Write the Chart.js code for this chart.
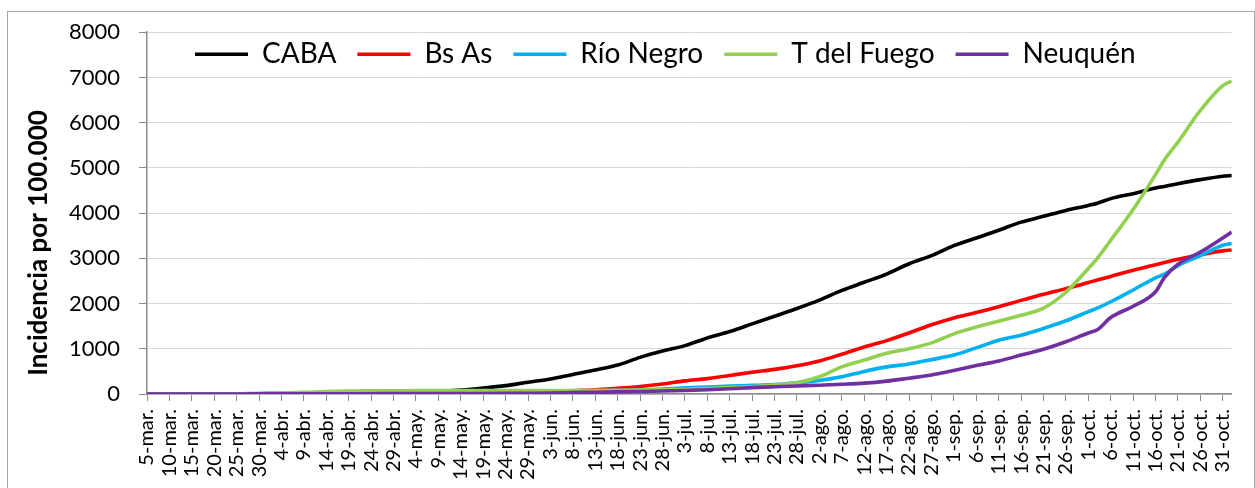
<!DOCTYPE html>
<html>
<head>
<meta charset="utf-8">
<script src="https://cdn.jsdelivr.net/npm/chart.js@4"></script>
<style>
  html, body { margin: 0; padding: 0; background: #fff; }
  #wrap { position: relative; width: 1255px; height: 488px; overflow: hidden; }
  #frame { position: absolute; left: 7px; top: 11px; width: 1246px; height: 490px; border: 1px solid #a6a6a6; pointer-events: none; }
  canvas { position: absolute; left: 0; top: 0; }
</style>
</head>
<body>
<div id="wrap">
  <canvas id="chart" width="1255" height="488"></canvas>
  <div id="frame"></div>
</div>
<script>
// ===== Data =====
// days counted from 5-mar. (day 0) to 2-nov. (day 242)
const sampleDays = [0,5,10,15,20,25,30,35,40,45,50,55,60,65,70,75,80,85,90,95,100,105,110,115,120,125,130,135,140,145,150,155,160,165,170,175,180,185,190,195,200,205,210,212,215,220,225,227,230,235,240,242];

const tickLabels = ['5-mar.','10-mar.','15-mar.','20-mar.','25-mar.','30-mar.',
  '4-abr.','9-abr.','14-abr.','19-abr.','24-abr.','29-abr.',
  '4-may.','9-may.','14-may.','19-may.','24-may.','29-may.',
  '3-jun.','8-jun.','13-jun.','18-jun.','23-jun.','28-jun.',
  '3-jul.','8-jul.','13-jul.','18-jul.','23-jul.','28-jul.',
  '2-ago.','7-ago.','12-ago.','17-ago.','22-ago.','27-ago.',
  '1-sep.','6-sep.','11-sep.','16-sep.','21-sep.','26-sep.',
  '1-oct.','6-oct.','11-oct.','16-oct.','21-oct.','26-oct.','31-oct.'];

const caba     = [0,0,0,1,3,6,10,14,18,22,27,32,40,55,85,130,185,260,330,430,530,640,810,950,1070,1240,1380,1550,1720,1890,2075,2290,2470,2650,2880,3060,3280,3450,3620,3800,3930,4060,4170,4220,4320,4430,4555,4590,4650,4740,4815,4830];
const bsAs     = [0,0,0,0,1,2,3,4,5,6,7,9,11,14,18,24,32,42,55,72,95,125,165,220,290,340,410,480,545,625,730,880,1040,1180,1350,1530,1680,1800,1930,2070,2205,2330,2465,2520,2600,2735,2860,2910,2980,3080,3165,3185];
const rioNegro = [0,0,1,3,6,10,16,22,27,31,34,36,38,40,42,44,47,50,54,60,67,76,88,110,135,155,175,190,210,250,300,380,500,600,665,760,860,1020,1190,1300,1450,1620,1820,1900,2040,2300,2570,2650,2840,3060,3290,3330];
const tdFuego  = [0,0,0,1,3,8,20,35,55,65,70,72,74,75,76,76,77,77,78,79,80,83,88,95,105,120,140,165,200,250,380,600,750,900,1000,1130,1330,1480,1610,1740,1900,2250,2775,3000,3400,4080,4850,5180,5570,6270,6820,6920];
const neuquen  = [0,0,0,0,1,2,3,4,5,6,7,8,9,10,11,12,14,17,21,30,38,46,55,65,78,95,115,140,160,178,195,215,240,285,350,420,520,630,730,860,990,1155,1350,1420,1690,1940,2260,2580,2870,3140,3450,3580];

const seriesNames  = ['CABA', 'Bs As', 'Río Negro', 'T del Fuego', 'Neuquén'];
const seriesData   = [caba, bsAs, rioNegro, tdFuego, neuquen];
const seriesColors = ['#000000', '#FF0000', '#00B0F0', '#92D050', '#7030A0'];

const yTitleText = 'Incidencia por 100.000';
const FONT = 'Lato';

// ===== Plugins =====
// legend sits inside the plot (like Excel): take no layout height, then place it
const legendInside = {
  id: 'legendInside',
  beforeInit(chart) {
    const lg = chart.legend;
    const origFit = lg.fit;
    lg.fit = function () {
      origFit.call(this);
      this.height = 0;
    };
  },
  afterLayout(chart) {
    const l = chart.legend, a = chart.chartArea;
    l.left = a.left + 27;
    l.right = a.right + 27;
    l.top = a.top - 13;
    l.bottom = l.top + 70;
    l.height = 70;
  }
};

const yTitle = {
  id: 'yTitle',
  afterDraw(chart) {
    const ctx = chart.ctx;
    ctx.save();
    ctx.translate(47, 243);
    ctx.rotate(-Math.PI / 2);
    ctx.font = 'bold 26px ' + FONT;
    ctx.fillStyle = '#000';
    ctx.textAlign = 'center';
    ctx.textBaseline = 'alphabetic';
    ctx.fillText(yTitleText, 0, 0);
    ctx.restore();
  }
};

// ===== Chart =====
const datasets = seriesNames.map((name, i) => ({
  label: name,
  data: sampleDays.map((d, j) => ({ x: d, y: seriesData[i][j] })),
  borderColor: seriesColors[i],
  backgroundColor: seriesColors[i],
  borderWidth: 3.6,
  pointRadius: 0,
  cubicInterpolationMode: 'monotone',
  order: seriesNames.length - i
}));

new Chart(document.getElementById('chart'), {
  type: 'line',
  data: { datasets },
  plugins: [legendInside, yTitle],
  options: {
    responsive: false,
    animation: false,
    layout: { padding: { top: 31, right: 15, left: 0, bottom: 0 } },
    plugins: {
      legend: {
        position: 'top',
        align: 'start',
        fullSize: false,
        labels: {
          usePointStyle: true,
          pointStyle: 'line',
          pointStyleWidth: 53,
          padding: 21,
          color: '#000',
          font: { family: FONT, size: 28 },
          sort: (a, b) => a.datasetIndex - b.datasetIndex
        }
      },
      tooltip: { enabled: false }
    },
    scales: {
      x: {
        type: 'linear',
        min: 0,
        max: 242,
        afterFit(s) { s.height = 94; },
        grid: { drawOnChartArea: false, tickLength: 7, color: '#8c8c8c' },
        border: { color: '#8c8c8c', width: 1.5 },
        ticks: {
          stepSize: 5,
          includeBounds: false,
          autoSkip: false,
          maxRotation: 90,
          minRotation: 90,
          padding: 8,
          color: '#000',
          font: { family: FONT, size: 20 },
          callback: v => tickLabels[v / 5]
        }
      },
      y: {
        min: 0,
        max: 8000,
        afterFit(s) { s.width = 147; },
        grid: { color: '#d9d9d9', tickColor: '#8c8c8c', tickLength: 8 },
        border: { color: '#8c8c8c', width: 1.5 },
        ticks: {
          stepSize: 1000,
          padding: 19,
          color: '#000',
          font: { family: FONT, size: 22 },
          callback: v => String(v)
        }
      }
    }
  }
});
</script>
</body>
</html>
